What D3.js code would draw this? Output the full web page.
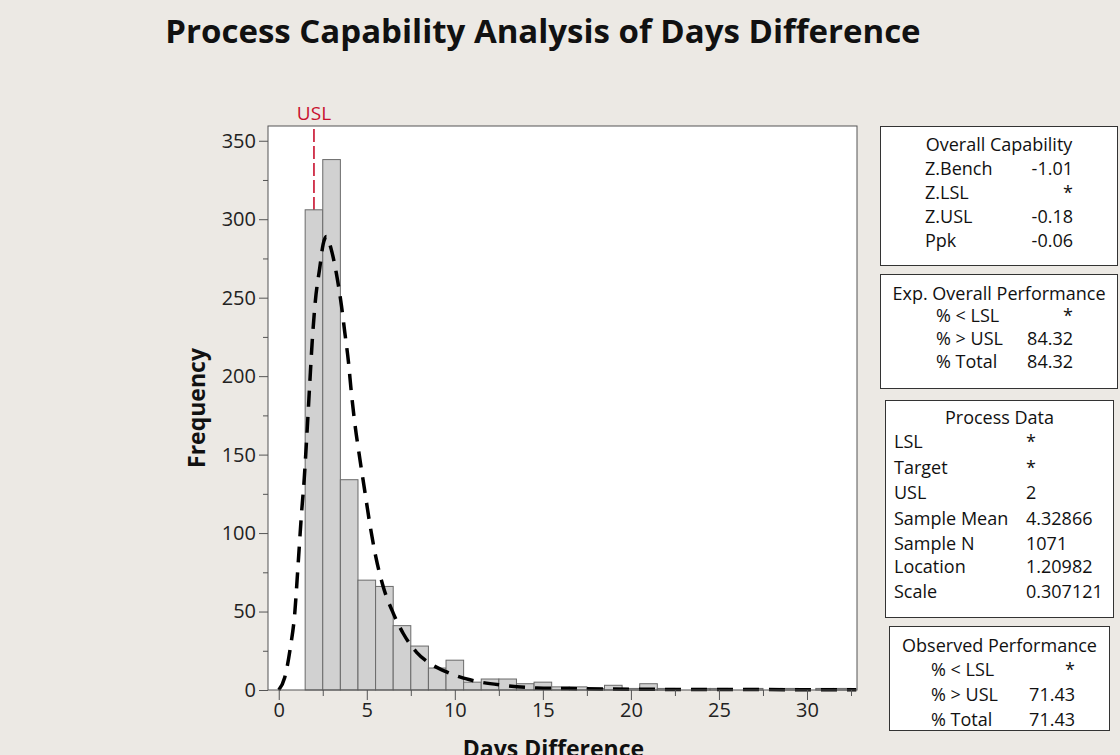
<!DOCTYPE html>
<html>
<head>
<meta charset="utf-8">
<script src="https://cdn.jsdelivr.net/npm/d3@7"></script>
<style>
   body { margin: 0; background: #ece9e4; overflow: hidden; }
   svg { display: block; }
</style>
</head>
<body>
<script>
// histogram bins (width 1, centred on whole days)
const binCenters = [2, 3, 4, 5, 6, 7, 8, 9, 10, 11, 12, 13, 14, 15, 16, 17, 18, 19, 20, 21, 22, 23, 24, 25, 26, 27, 28, 29, 30, 31, 32];
const binCounts = [306, 338, 134, 70, 66, 41, 28, 14, 19, 5, 7, 7, 4, 5, 2, 2, 1, 3, 1, 4, 1, 0, 1, 1, 0, 1, 0, 1, 0, 1, 1];

// fitted overall curve
const curveX = [0, 0.34, 0.66, 0.91, 1.1, 1.29, 1.45, 1.6, 1.76, 1.9, 2.08, 2.33, 2.52, 2.71, 2.9, 3.0, 3.28, 3.56, 3.75, 3.96, 4.12, 4.32, 4.57, 4.87, 5.17, 5.51, 5.93, 6.5, 7.07, 7.83, 8.58, 9.53, 10.86, 12.75, 14.65, 17, 20, 25, 32.8];
const curveY = [0, 8, 27, 49, 80, 112, 135, 163, 195, 222, 248, 269, 284, 289, 284, 280, 265, 245, 228, 209, 190, 170, 150, 128, 106, 85, 66, 49, 36, 24, 17, 11.5, 6.5, 3, 1.3, 0.8, 0.5, 0.3, 0.2];

const usl = 2;
const xTicks = [0, 5, 10, 15, 20, 25, 30];
const yTicks = [0, 50, 100, 150, 200, 250, 300, 350];

// summary tables
const capLabels = ['Z.Bench', 'Z.LSL', 'Z.USL', 'Ppk'];
const capValues = ['-1.01', '*', '-0.18', '-0.06'];
const expLabels = ['% < LSL', '% > USL', '% Total'];
const expValues = ['*', '84.32', '84.32'];
const procLabels = ['LSL', 'Target', 'USL', 'Sample Mean', 'Sample N', 'Location', 'Scale'];
const procValues = ['*', '*', '2', '4.32866', '1071', '1.20982', '0.307121'];
const obsLabels = ['% < LSL', '% > USL', '% Total'];
const obsValues = ['*', '71.43', '71.43'];

document.addEventListener('DOMContentLoaded', function() {
   const w = 1120;
   const h = 755;
   const font = '"Open Sans", "DejaVu Sans", sans-serif';

   const svg = d3
      .select('body')
      .append('svg')
      .attr('width', w)
      .attr('height', h)
      .style('font-family', font);

   svg.append('rect')
      .attr('width', w)
      .attr('height', h)
      .attr('fill', '#ece9e4');

   svg.append('text')
      .attr('x', 543)
      .attr('y', 43)
      .attr('text-anchor', 'middle')
      .attr('font-size', 33)
      .attr('font-weight', 'bold')
      .attr('fill', '#111')
      .text('Process Capability Analysis of Days Difference');

   const left = 268, right = 857, top = 126, bottom = 690;

   const x = d3.scaleLinear().domain([-0.61, 32.84]).range([left, right]);
   const y = d3.scaleLinear().domain([0, 359.4]).range([bottom, top]);

   svg.append('rect')
      .attr('x', left)
      .attr('y', top)
      .attr('width', right - left)
      .attr('height', bottom - top)
      .attr('fill', '#fff');

   // USL reference line (behind the bars)
   svg.append('line')
      .attr('x1', x(usl))
      .attr('x2', x(usl))
      .attr('y1', top + 3)
      .attr('y2', bottom)
      .attr('stroke', '#c8102e')
      .attr('stroke-width', 1.6)
      .attr('stroke-dasharray', '13,4');

   svg.append('text')
      .attr('x', x(usl))
      .attr('y', 120)
      .attr('text-anchor', 'middle')
      .attr('font-size', 19)
      .attr('fill', '#c8102e')
      .text('USL');

   const bins = binCenters.map((c, i) => ({ c: c, n: binCounts[i] })).filter(d => d.n > 0);

   svg.selectAll('rect.bar')
      .data(bins)
      .enter()
      .append('rect')
      .attr('class', 'bar')
      .attr('x', d => x(d.c - 0.5))
      .attr('y', d => y(d.n))
      .attr('width', d => x(d.c + 0.5) - x(d.c - 0.5))
      .attr('height', d => y(0) - y(d.n))
      .attr('fill', '#d1d1d1')
      .attr('stroke', '#6a6a6a')
      .attr('stroke-width', 1);

   const line = d3.line()
      .x(d => x(d[0]))
      .y(d => y(d[1]))
      .curve(d3.curveMonotoneX);

   svg.append('path')
      .datum(curveX.map((v, i) => [v, curveY[i]]))
      .attr('d', line)
      .attr('fill', 'none')
      .attr('stroke', '#000')
      .attr('stroke-width', 3.5)
      .attr('stroke-dasharray', '16,10');

   // frame
   svg.append('rect')
      .attr('x', left)
      .attr('y', top)
      .attr('width', right - left)
      .attr('height', bottom - top)
      .attr('fill', 'none')
      .attr('stroke', '#555')
      .attr('stroke-width', 1);

   // y axis
   const yAxis = svg.append('g')
      .attr('transform', 'translate(' + left + ',0)')
      .call(d3.axisLeft(y).tickValues(d3.range(25, 351, 50)).tickSize(5).tickFormat(''));
   yAxis.append('g')
      .call(d3.axisLeft(y).tickValues(yTicks).tickSize(9).tickPadding(3));

   // x axis
   const xAxis = svg.append('g')
      .attr('transform', 'translate(0,' + bottom + ')')
      .call(d3.axisBottom(x).tickValues(d3.range(2.5, 33, 5)).tickSize(6).tickFormat(''));
   xAxis.append('g')
      .call(d3.axisBottom(x).tickValues(xTicks).tickSize(10).tickPadding(3));

   svg.selectAll('.domain').remove();
   svg.selectAll('.tick line').attr('stroke', '#555');
   svg.selectAll('.tick text')
      .attr('font-family', font)
      .attr('font-size', 20)
      .attr('fill', '#222');

   svg.append('text')
      .attr('transform', 'translate(205,' + (top + bottom) / 2 + ') rotate(-90)')
      .attr('text-anchor', 'middle')
      .attr('font-size', 23)
      .attr('font-weight', 'bold')
      .attr('fill', '#111')
      .text('Frequency');

   svg.append('text')
      .attr('x', x(15.6))
      .attr('y', 757)
      .attr('text-anchor', 'middle')
      .attr('font-size', 23)
      .attr('font-weight', 'bold')
      .attr('fill', '#111')
      .text('Days Difference');

   // side tables
   function box(bx, by, bw, bh, title, titleY, labels, values, rowY, labelX, valueX, valueAnchor) {
      svg.append('rect')
         .attr('x', bx)
         .attr('y', by)
         .attr('width', bw)
         .attr('height', bh)
         .attr('fill', '#fff')
         .attr('stroke', '#333')
         .attr('stroke-width', 1);
      svg.append('text')
         .attr('x', bx + bw / 2)
         .attr('y', titleY)
         .attr('text-anchor', 'middle')
         .attr('font-size', 18)
         .attr('fill', '#111')
         .text(title);
      labels.forEach((l, i) => {
         svg.append('text')
            .attr('x', labelX)
            .attr('y', rowY[i])
            .attr('font-size', 18)
            .attr('fill', '#111')
            .text(l);
         svg.append('text')
            .attr('x', valueX)
            .attr('y', rowY[i])
            .attr('text-anchor', valueAnchor)
            .attr('font-size', 18)
            .attr('fill', '#111')
            .text(values[i]);
      });
   }

   box(880.5, 126.5, 237, 139, 'Overall Capability', 151, capLabels, capValues,
      [175, 199, 223, 247], 925, 1073, 'end');
   box(880.5, 274.5, 237, 114, 'Exp. Overall Performance', 300, expLabels, expValues,
      [322, 345, 368], 936, 1073, 'end');
   box(885.5, 400.5, 228, 217, 'Process Data', 424, procLabels, procValues,
      [448, 474, 499, 525, 550, 573, 598], 894, 1026, 'start');
   box(889.5, 626.5, 220, 104, 'Observed Performance', 652, obsLabels, obsValues,
      [676, 701, 726], 931, 1075, 'end');
});
</script>
</body>
</html>
